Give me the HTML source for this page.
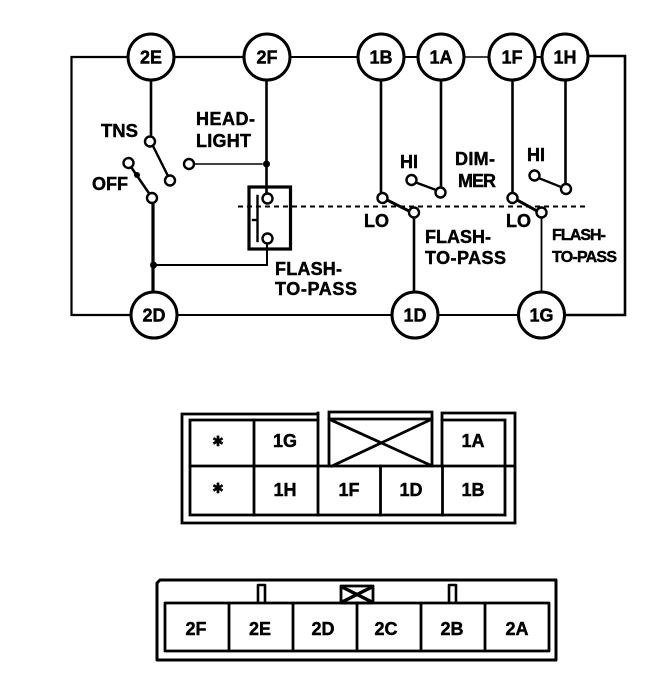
<!DOCTYPE html>
<html>
<head>
<meta charset="utf-8">
<style>
html,body{margin:0;padding:0;background:#fff;}
svg{display:block;}
text{font-family:"Liberation Sans",sans-serif;font-weight:bold;fill:#000;stroke:#000;stroke-width:.45;}
</style>
</head>
<body>
<svg width="672" height="676" viewBox="0 0 672 676" xmlns="http://www.w3.org/2000/svg">
<g fill="none" stroke="#000" stroke-linecap="square">
  <!-- outer loop -->
  <path d="M128 57H71.5V315H131" stroke-width="2.200"/>
  <path d="M174 57H244" stroke-width="2.200"/>
  <path d="M290 57H358" stroke-width="2"/>
  <path d="M404 57H418" stroke-width="2"/>
  <path d="M464 57H489" stroke-width="1.400" stroke-dasharray="7 1"/>
  <path d="M535 57H542" stroke-width="2"/>
  <path d="M588 56H625V315H565" stroke-width="2.600"/>
  <path d="M177 315H392" stroke-width="2"/>
  <path d="M438 315H518" stroke-width="2"/>
  <!-- verticals -->
  <path d="M151 80V136" stroke-width="2.600"/>
  <path d="M266.5 80V193" stroke-width="2.600"/>
  <path d="M381 80V193" stroke-width="2.600"/>
  <path d="M441 80V187" stroke-width="2.600"/>
  <path d="M512.5 80V193" stroke-width="2.600"/>
  <path d="M565.5 80V184" stroke-width="2.600"/>
  <path d="M153 203V292" stroke-width="3.200"/>
  <path d="M414 218V292" stroke-width="2.600"/>
  <path d="M541.5 218V292" stroke-width="1.800"/>
  <!-- switches -->
  <path d="M153 146L168 176" stroke-width="2.400"/>
  <path d="M131 167L149.500 194" stroke-width="2.600"/>
  <path d="M194 164H262" stroke-width="1.400"/>
  <path d="M153.500 265H267V244" stroke-width="2"/>
  <path d="M387 200L409 211" stroke-width="3"/>
  <path d="M416 182.500L436 190" stroke-width="2.400"/>
  <path d="M517 200L537 211" stroke-width="3"/>
  <path d="M538.500 178L561 187" stroke-width="2.400"/>
  <!-- flash box -->
  <rect x="249" y="187" width="41.500" height="62" stroke-width="3.200"/>
  <path d="M257.500 196V241" stroke-width="2.400"/>
  <path d="M253 220H257" stroke-width="2.400"/>
  <!-- dashed mechanical link -->
  <path d="M238 206.500H588" stroke-width="2" stroke-dasharray="5 4" stroke-linecap="butt"/>
</g>
<g fill="#000">
  <circle cx="266.500" cy="164" r="3.500"/>
  <circle cx="153.500" cy="265" r="3.500"/>
  <circle cx="137" cy="175" r="3"/>
</g>
<!-- small terminals -->
<g fill="#fff" stroke="#000" stroke-width="2.400">
  <circle cx="150" cy="141.500" r="5"/>
  <circle cx="170" cy="180.500" r="5"/>
  <circle cx="128.500" cy="163" r="5"/>
  <circle cx="152" cy="198" r="5"/>
  <circle cx="189" cy="164" r="5"/>
  <circle cx="267.500" cy="198.500" r="5"/>
  <circle cx="267.500" cy="238.500" r="5"/>
  <circle cx="382.500" cy="198" r="5"/>
  <circle cx="414" cy="212.500" r="5"/>
  <circle cx="411.500" cy="180" r="5"/>
  <circle cx="440.500" cy="192.500" r="5"/>
  <circle cx="512.500" cy="198" r="5"/>
  <circle cx="541.500" cy="212.500" r="5"/>
  <circle cx="534.500" cy="175.500" r="5"/>
  <circle cx="566" cy="189" r="5"/>
</g>
<!-- large terminals -->
<g fill="#fff" stroke="#000" stroke-width="3">
  <circle cx="151" cy="57" r="23"/>
  <circle cx="267" cy="57" r="23"/>
  <circle cx="381" cy="57" r="23"/>
  <circle cx="441" cy="57" r="23"/>
  <circle cx="512" cy="57" r="23"/>
  <circle cx="565" cy="57" r="23"/>
  <circle cx="154" cy="315" r="23"/>
  <circle cx="415" cy="315" r="23"/>
  <circle cx="541.500" cy="315" r="23"/>
</g>
<g font-size="18" text-anchor="middle">
  <text x="151" y="63.500">2E</text>
  <text x="267" y="63.500">2F</text>
  <text x="381" y="63.500">1B</text>
  <text x="441" y="63.500">1A</text>
  <text x="512" y="63.500">1F</text>
  <text x="565" y="63.500">1H</text>
  <text x="154" y="321.500">2D</text>
  <text x="415" y="321.500">1D</text>
  <text x="541.500" y="321.500">1G</text>
</g>
<g font-size="18">
  <text x="101" y="137" font-size="18.500">TNS</text>
  <text x="92" y="190">OFF</text>
  <text x="196" y="125" textLength="59">HEAD-</text>
  <text x="196" y="147" textLength="55">LIGHT</text>
  <text x="275" y="275" textLength="67">FLASH-</text>
  <text x="275" y="295" textLength="82">TO-PASS</text>
  <text x="400" y="168">HI</text>
  <text x="455" y="165" textLength="40">DIM-</text>
  <text x="458" y="187" textLength="38">MER</text>
  <text x="527" y="161">HI</text>
  <text x="364" y="227">LO</text>
  <text x="506" y="227">LO</text>
  <text x="425" y="243" textLength="66">FLASH-</text>
  <text x="425" y="264" textLength="81">TO-PASS</text>
  <text x="552" y="240" font-size="16" textLength="54">FLASH-</text>
  <text x="552" y="262" font-size="16" textLength="65">TO-PASS</text>
</g>

<!-- upper connector -->
<g fill="none" stroke="#000" stroke-width="2.800" stroke-linecap="square">
  <path d="M318 414H182V523H515V413H442V466"/>
  <path d="M318 420H190V515H505"/>
  <path d="M442 420H505V515"/>
  <path d="M190 466H513"/>
  <path d="M254 420V515"/>
  <path d="M318 413V515"/>
  <path d="M380.500 466V515"/>
  <path d="M442.500 466V515"/>
  <path d="M329 466V412H432V466"/>
  <path d="M329 419H432"/>
  <path d="M331 420L430 465M332 466L430 420"/>
</g>
<!-- lower connector -->
<g fill="none" stroke="#000" stroke-width="2.800" stroke-linejoin="round">
  <path d="M160 580H556V660H157V583Z" stroke-width="3"/>
  <rect x="165" y="603" width="384" height="48"/>
  <path d="M229 603V651M293 603V651M357 603V651M421 603V651M485 603V651"/>
  <path d="M258 603V585H265V603" stroke-width="2.600"/>
  <path d="M449 603V585H456V603" stroke-width="2.600"/>
  <rect x="341" y="586" width="32" height="17"/>
  <path d="M342 587L372 602M342 602L372 587" stroke-width="3.400"/>
</g>
<g font-size="18" text-anchor="middle">
  <text x="218" y="446" font-size="14" style="font-family:'DejaVu Sans',sans-serif">✱</text>
  <text x="285" y="447">1G</text>
  <text x="473" y="447">1A</text>
  <text x="218" y="493" font-size="14" style="font-family:'DejaVu Sans',sans-serif">✱</text>
  <text x="285" y="496">1H</text>
  <text x="349" y="496">1F</text>
  <text x="411" y="496">1D</text>
  <text x="473" y="496">1B</text>
  <text x="196" y="635">2F</text>
  <text x="260" y="635">2E</text>
  <text x="323" y="635">2D</text>
  <text x="386" y="635">2C</text>
  <text x="452" y="635">2B</text>
  <text x="517" y="635">2A</text>
</g>
</svg>
</body>
</html>
